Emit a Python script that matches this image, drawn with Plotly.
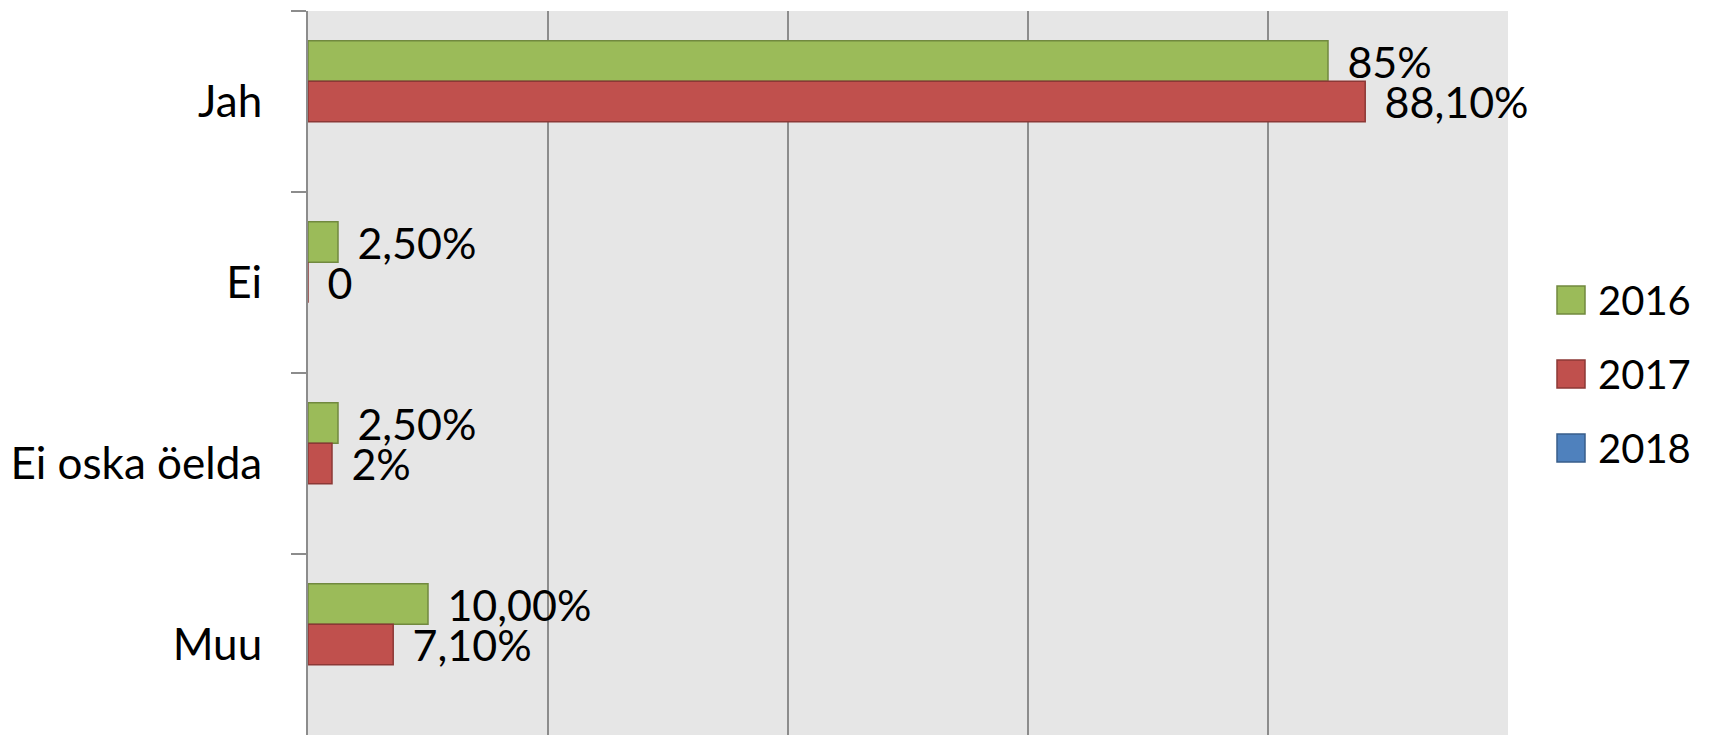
import plotly.graph_objects as go

categories = ["Jah", "Ei", "Ei oska öelda", "Muu"]
years = ["2016", "2017", "2018"]
values_2016 = [0.85, 0.025, 0.025, 0.10]
values_2017 = [0.881, 0.0, 0.02, 0.071]
values_2018 = [None, None, None, None]
labels_2016 = ["85%", "2,50%", "2,50%", "10,00%"]
labels_2017 = ["88,10%", "0", "2%", "7,10%"]
labels_2018 = ["", "", "", ""]

fills = ["#9bbb59", "#c0504d", "#4f81bd"]
edges = ["#71893f", "#8c3836", "#385d8a"]

FONT = "Lato, 'Open Sans', sans-serif"
PAD = "\u00a0\u2009"

# layout in figure pixels (page has an 8px body margin)
W, H = 1713, 735
ML, MR, MT, MB = 300, 213, 3, 8
PW, PH = W - ML - MR, H - MT - MB


def px_x(x):
    return (x - ML) / PW


def px_y(y):
    return 1 - (y - MT) / PH


fig = go.Figure()
for year, vals, labs, fc, ec in zip(years, [values_2016, values_2017, values_2018],
                                    [labels_2016, labels_2017, labels_2018], fills, edges):
    fig.add_trace(go.Bar(
        y=categories, x=vals, name=year, orientation="h",
        marker=dict(color=fc, line=dict(color=ec, width=1.5)),
        text=[PAD + t if t else "" for t in labs],
        textposition="outside", constraintext="none", cliponaxis=False,
        textfont=dict(family=FONT, size=43, color="black"),
        hoverinfo="skip", showlegend=False,
    ))

# legend drawn by hand so the swatches can be as large as in the original
for i, (year, fc, ec) in enumerate(zip(years, fills, edges)):
    cy = 292 + 74 * i
    fig.add_shape(type="rect", xref="paper", yref="paper",
                  x0=px_x(1549), x1=px_x(1577), y0=px_y(cy + 14), y1=px_y(cy - 14),
                  fillcolor=fc, line=dict(color=ec, width=1.5), layer="above")
    fig.add_annotation(xref="paper", yref="paper", x=px_x(1588), y=px_y(cy),
                       text=year, showarrow=False, xanchor="left", yanchor="middle",
                       font=dict(family=FONT, size=40, color="black"))

fig.update_layout(
    width=W, height=H,
    margin=dict(l=ML, r=MR, t=MT, b=MB, autoexpand=False),
    paper_bgcolor="white",
    plot_bgcolor="#e6e6e6",
    barmode="group", bargap=0.33, bargroupgap=0,
    font=dict(family=FONT, size=44, color="black"),
    showlegend=False,
)
fig.update_xaxes(range=[0, 1], dtick=0.2, showticklabels=False,
                 showgrid=True, gridcolor="#8c8c8c", gridwidth=2,
                 zeroline=False, showline=False, automargin=False)
fig.update_yaxes(autorange="reversed", tickson="boundaries",
                 ticks="outside", ticklen=15, tickcolor="#8c8c8c", tickwidth=2,
                 showline=True, linecolor="#8c8c8c", linewidth=2,
                 showgrid=False, ticklabelstandoff=35, automargin=False,
                 tickfont=dict(family=FONT, size=44, color="black"))

fig.write_html("out.html")
